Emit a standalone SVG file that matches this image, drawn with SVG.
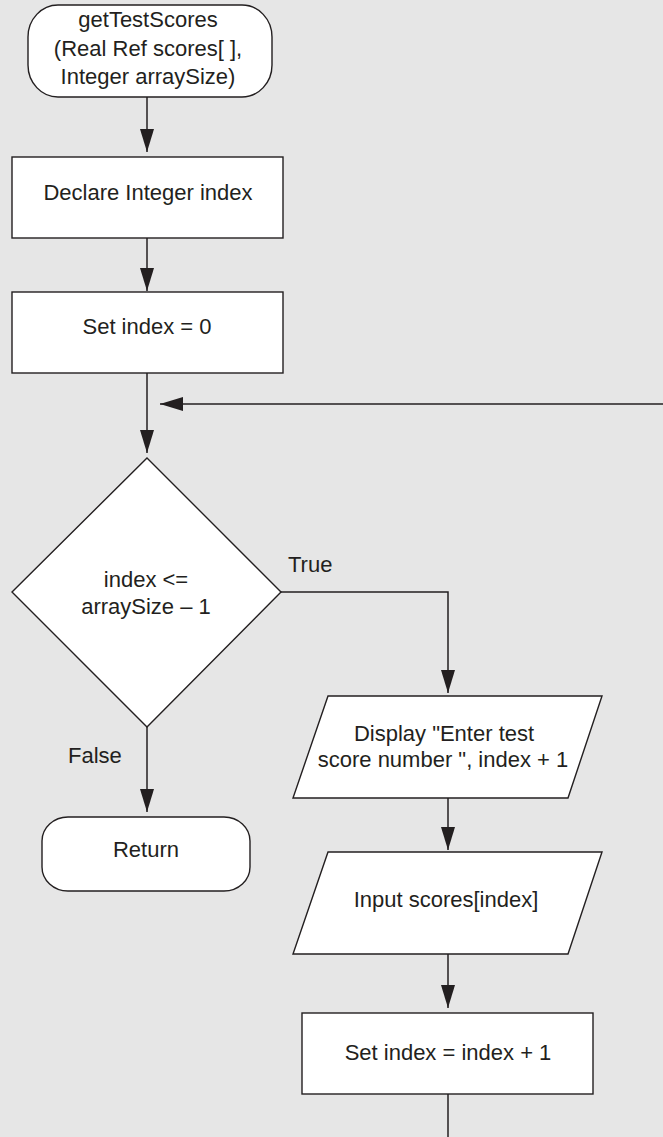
<svg xmlns="http://www.w3.org/2000/svg" width="663" height="1137" viewBox="0 0 663 1137">
<style>
.bg{fill:#e6e6e6}
.shape{fill:#ffffff;stroke:#231f20;stroke-width:1.4}
.conn{fill:none;stroke:#231f20;stroke-width:1.5}
text{font-family:"Liberation Sans",Arial,Helvetica,sans-serif;font-size:22px;fill:#231f20}
.c{text-anchor:middle}
</style>
<defs>
<marker id="arrow" markerUnits="userSpaceOnUse" markerWidth="24" markerHeight="16" refX="23" refY="7" orient="auto">
<path d="M0,0 L23,7 L0,14 z" fill="#231f20"/>
</marker>
</defs>
<rect class="bg" x="0" y="0" width="663" height="1137"/>
<g id="connectors">
<line class="conn" x1="147" y1="97" x2="147" y2="152" marker-end="url(#arrow)"/>
<line class="conn" x1="147" y1="238" x2="147" y2="291" marker-end="url(#arrow)"/>
<line class="conn" x1="147" y1="373" x2="147" y2="453" marker-end="url(#arrow)"/>
<line class="conn" x1="663" y1="404" x2="160" y2="404" marker-end="url(#arrow)"/>
<polyline class="conn" points="281,592 448,592 448,693" marker-end="url(#arrow)"/>
<line class="conn" x1="147" y1="727" x2="147" y2="812" marker-end="url(#arrow)"/>
<line class="conn" x1="448" y1="798" x2="448" y2="850" marker-end="url(#arrow)"/>
<line class="conn" x1="448" y1="954" x2="448" y2="1008" marker-end="url(#arrow)"/>
<line class="conn" x1="448" y1="1094" x2="448" y2="1137"/>
<text x="288" y="572">True</text>
<text x="68" y="763">False</text>
</g>
<g id="start">
<rect class="shape" x="28" y="5" width="244" height="92" rx="30" ry="32"/>
<text class="c" x="148" y="27">getTestScores</text>
<text class="c" x="148" y="56">(Real Ref scores[ ],</text>
<text class="c" x="148" y="84">Integer arraySize)</text>
</g>
<g id="declare">
<rect class="shape" x="12" y="157" width="271" height="81"/>
<text class="c" x="148" y="200">Declare Integer index</text>
</g>
<g id="setIndex0">
<rect class="shape" x="12" y="292" width="271" height="81"/>
<text class="c" x="147" y="334">Set index = 0</text>
</g>
<g id="decision">
<polygon class="shape" points="147,458 281,592 147,727 12,592"/>
<text class="c" x="146" y="587">index &lt;=</text>
<text class="c" x="146" y="614">arraySize – 1</text>
</g>
<g id="return">
<rect class="shape" x="42" y="817" width="208" height="74" rx="26" ry="24"/>
<text class="c" x="146" y="857">Return</text>
</g>
<g id="display">
<polygon class="shape" points="328,696 602,696 568,798 293,798"/>
<text class="c" x="444" y="741">Display "Enter test</text>
<text class="c" x="443" y="767">score number ", index + 1</text>
</g>
<g id="input">
<polygon class="shape" points="328,852 602,852 568,954 293,954"/>
<text class="c" x="446" y="907">Input scores[index]</text>
</g>
<g id="increment">
<rect class="shape" x="302" y="1013" width="291" height="81"/>
<text class="c" x="448" y="1060">Set index = index + 1</text>
</g>
</svg>
